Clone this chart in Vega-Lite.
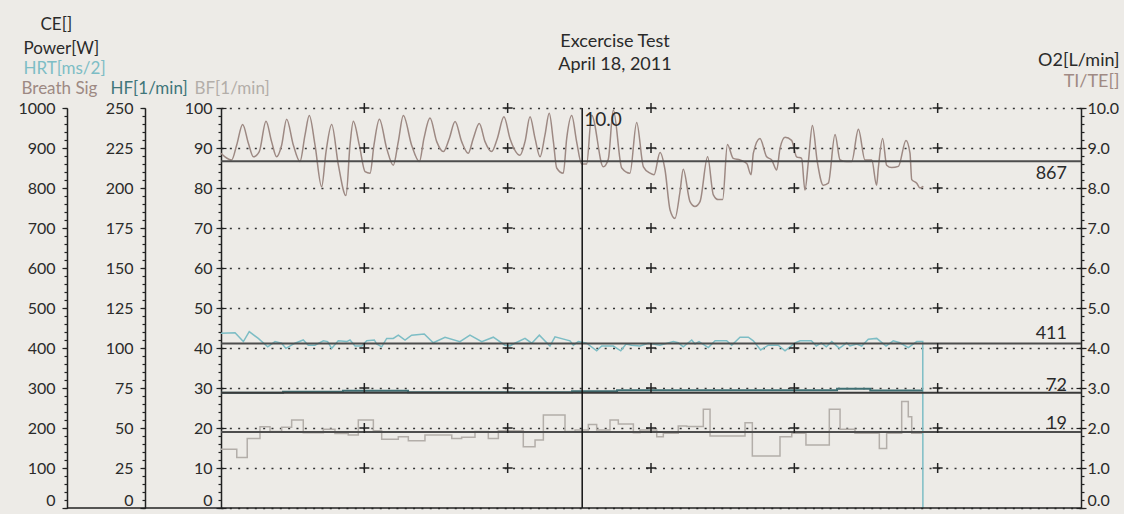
{
  "$schema": "https://vega.github.io/schema/vega-lite/v6.json",
  "width": 860,
  "height": 400,
  "autosize": {"type": "none"},
  "padding": {"left": 221, "top": 108, "right": 43, "bottom": 6},
  "background": "#edebe7",
  "config": {
    "view": {"stroke": null},
    "font": "Lato",
    "axis": {
      "domainColor": "#222222",
      "domainWidth": 1.5,
      "tickColor": "#222222",
      "tickWidth": 1.2,
      "labelFont": "Lato",
      "labelFontSize": 16,
      "labelColor": "#2a2a2a",
      "labelOverlap": false,
      "grid": false,
      "titleFont": "Lato",
      "titleFontSize": 17,
      "titleFontWeight": "normal",
      "titleAngle": 0,
      "titleAlign": "left",
      "titleBaseline": "alphabetic",
      "titleColor": "#2a2a2a",
      "titlePadding": 0
    }
  },
  "datasets": {
    "dummy": [{"value": 0}],
    "heading": [{"text": "Excercise Test"}, {"text": "April 18, 2011"}],
    "breath": [
      {"t":0,"value":887},{"t":2.8,"value":878},{"t":7.4,"value":870},{"t":10.9,"value":907},{"t":15.1,"value":959},{"t":19.1,"value":912},{"t":22.6,"value":878},{"t":26.7,"value":891},{"t":31.4,"value":967},{"t":35.3,"value":916},{"t":38.8,"value":878},{"t":42.3,"value":907},{"t":45.8,"value":972},{"t":50.5,"value":907},{"t":55.1,"value":866},{"t":58.6,"value":932},{"t":61.6,"value":981},{"t":65.6,"value":907},{"t":70.2,"value":803},{"t":73.3,"value":891},{"t":77.2,"value":959},{"t":81.9,"value":857},{"t":87.2,"value":781},{"t":90,"value":907},{"t":92.3,"value":967},{"t":96.5,"value":907},{"t":100.5,"value":841},{"t":104,"value":837},{"t":106.7,"value":907},{"t":110.5,"value":972},{"t":115.6,"value":899},{"t":120.2,"value":857},{"t":123.7,"value":916},{"t":127.2,"value":981},{"t":133,"value":907},{"t":138.4,"value":866},{"t":141.6,"value":924},{"t":145.8,"value":975},{"t":150.5,"value":916},{"t":155.1,"value":891},{"t":159.3,"value":924},{"t":163.3,"value":966},{"t":167.9,"value":916},{"t":172.5,"value":887},{"t":176,"value":924},{"t":180.2,"value":961},{"t":184.2,"value":916},{"t":188.8,"value":891},{"t":192.8,"value":924},{"t":197.4,"value":978},{"t":201.6,"value":924},{"t":208.6,"value":882},{"t":212.1,"value":916},{"t":215.6,"value":978},{"t":219.1,"value":924},{"t":222.6,"value":878},{"t":226,"value":932},{"t":229,"value":987},{"t":231.9,"value":916},{"t":234.2,"value":850},{"t":238.8,"value":837},{"t":241.2,"value":924},{"t":244.7,"value":981},{"t":248.1,"value":916},{"t":251.6,"value":860},{"t":255.1,"value":860},{"t":258.6,"value":982},{"t":266.7,"value":853},{"t":270.2,"value":872},{"t":273.7,"value":995},{"t":279.6,"value":850},{"t":285.3,"value":837},{"t":290,"value":964},{"t":294.7,"value":853},{"t":299.3,"value":837},{"t":302.1,"value":833},{"t":306.3,"value":889},{"t":309.8,"value":845},{"t":313.3,"value":745},{"t":316.7,"value":724},{"t":320.2,"value":790},{"t":322.5,"value":847},{"t":327.2,"value":766},{"t":330.7,"value":754},{"t":334.2,"value":766},{"t":339.5,"value":878},{"t":343.5,"value":783},{"t":347,"value":771},{"t":350,"value":771},{"t":353.3,"value":909},{"t":357.4,"value":874},{"t":362.1,"value":870},{"t":366.8,"value":861},{"t":369.8,"value":833},{"t":371.4,"value":887},{"t":376,"value":924},{"t":380.7,"value":878},{"t":384.2,"value":870},{"t":387.7,"value":845},{"t":390,"value":899},{"t":393.5,"value":927},{"t":398.1,"value":919},{"t":401.6,"value":878},{"t":405.1,"value":874},{"t":407.4,"value":795},{"t":409.8,"value":866},{"t":412.6,"value":956},{"t":416,"value":866},{"t":420.2,"value":807},{"t":423.7,"value":812},{"t":428.4,"value":934},{"t":431.9,"value":870},{"t":436.5,"value":866},{"t":440,"value":866},{"t":444.7,"value":947},{"t":449.3,"value":870},{"t":454,"value":870},{"t":457.4,"value":807},{"t":458.6,"value":850},{"t":461.6,"value":924},{"t":464.4,"value":857},{"t":467.9,"value":851},{"t":472.6,"value":854},{"t":477.9,"value":919},{"t":480.7,"value":887},{"t":481.9,"value":821},{"t":485.4,"value":812},{"t":487.7,"value":800},{"t":490,"value":804}
    ],
    "hrt": [
      {"t":0,"value":437},{"t":9.8,"value":438},{"t":15.6,"value":416},{"t":19.7,"value":441},{"t":26,"value":424},{"t":32.6,"value":403},{"t":37.7,"value":416},{"t":42.3,"value":412},{"t":45.3,"value":399},{"t":51.6,"value":412},{"t":57.4,"value":420},{"t":60.9,"value":407},{"t":65.6,"value":407},{"t":71.4,"value":418},{"t":74.4,"value":416},{"t":77.2,"value":399},{"t":81.8,"value":418},{"t":87.7,"value":416},{"t":90,"value":420},{"t":93.5,"value":405},{"t":98.2,"value":405},{"t":101.7,"value":418},{"t":107,"value":420},{"t":108.6,"value":410},{"t":112.1,"value":403},{"t":115.6,"value":424},{"t":120.2,"value":424},{"t":123.7,"value":432},{"t":128.4,"value":420},{"t":133,"value":432},{"t":141.8,"value":435},{"t":148.1,"value":413},{"t":156.3,"value":427},{"t":166.7,"value":416},{"t":173.7,"value":432},{"t":181.9,"value":416},{"t":190,"value":427},{"t":198.1,"value":407},{"t":201.6,"value":405},{"t":203.9,"value":410},{"t":212.1,"value":424},{"t":216.8,"value":412},{"t":222.1,"value":432},{"t":229.5,"value":405},{"t":233,"value":428},{"t":243.5,"value":418},{"t":245.8,"value":407},{"t":249.3,"value":416},{"t":255.1,"value":412},{"t":262.1,"value":393},{"t":265.6,"value":405},{"t":273.7,"value":405},{"t":278.9,"value":393},{"t":282.6,"value":410},{"t":286.5,"value":407},{"t":292.3,"value":405},{"t":298.1,"value":412},{"t":306.3,"value":407},{"t":315.6,"value":416},{"t":319,"value":413},{"t":322.5,"value":403},{"t":328.4,"value":420},{"t":330.7,"value":410},{"t":333.5,"value":416},{"t":340,"value":401},{"t":344.7,"value":418},{"t":352.8,"value":418},{"t":356.3,"value":407},{"t":362.1,"value":427},{"t":367.9,"value":427},{"t":371.4,"value":418},{"t":376.5,"value":395},{"t":381.9,"value":407},{"t":388.8,"value":407},{"t":393.5,"value":393},{"t":400.5,"value":413},{"t":404,"value":418},{"t":411.9,"value":418},{"t":415.3,"value":405},{"t":418.8,"value":413},{"t":422.3,"value":403},{"t":426.1,"value":416},{"t":431.4,"value":399},{"t":436.5,"value":413},{"t":438.8,"value":405},{"t":443.5,"value":410},{"t":447,"value":405},{"t":451.6,"value":422},{"t":457.5,"value":424},{"t":464,"value":405},{"t":469,"value":418},{"t":473.7,"value":413},{"t":479.5,"value":401},{"t":485.4,"value":416},{"t":489.6,"value":416},{"t":489.7,"value":0}
    ],
    "hf": [
      {"t":0,"value":72},{"t":43.3,"value":72.6},{"t":85.1,"value":73.3},{"t":130.5,"value":72.3},{"t":244.9,"value":73},{"t":276.3,"value":73.6},{"t":429.8,"value":74.5},{"t":453,"value":73.5},{"t":489.6,"value":73.5}
    ],
    "bf": [
      {"t":0,"value":14.7},{"t":11,"value":12.6},{"t":18.3,"value":17.4},{"t":27.2,"value":20.3},{"t":34.2,"value":19.1},{"t":42.3,"value":20.2},{"t":49.3,"value":22},{"t":57.4,"value":18.8},{"t":71.4,"value":19.7},{"t":79.5,"value":18.6},{"t":88.8,"value":18.25},{"t":95.8,"value":22},{"t":106.3,"value":19.3},{"t":112.1,"value":17.2},{"t":123.7,"value":17.8},{"t":130.7,"value":16.8},{"t":142.3,"value":18.25},{"t":161,"value":17.4},{"t":167.9,"value":17.7},{"t":177.2,"value":19.1},{"t":186.5,"value":17.4},{"t":193.5,"value":19.3},{"t":210.9,"value":15.3},{"t":219.1,"value":17},{"t":224.9,"value":23.25},{"t":240,"value":19.1},{"t":247,"value":19.5},{"t":256.3,"value":20.9},{"t":262.1,"value":19.5},{"t":271.4,"value":22},{"t":277.2,"value":21},{"t":287.7,"value":18.8},{"t":292.3,"value":19.5},{"t":304,"value":17.8},{"t":308.6,"value":18.7},{"t":319,"value":20.5},{"t":324.9,"value":20.4},{"t":336.5,"value":24.7},{"t":341.2,"value":18},{"t":365.6,"value":21.3},{"t":370.7,"value":13},{"t":390,"value":17.8},{"t":398.2,"value":18.7},{"t":408.1,"value":15.75},{"t":424.4,"value":24.7},{"t":431.9,"value":19.7},{"t":442.3,"value":18.7},{"t":459.3,"value":14.9},{"t":464.4,"value":18.7},{"t":474.9,"value":26.6},{"t":479.5,"value":22.8},{"t":481.9,"value":18.7},{"t":489.6,"value":18.7}
    ],
    "ref1000": [{"value": 867, "label": "867"}, {"value": 411, "label": "411"}],
    "ref250": [{"value": 72, "label": "72"}],
    "ref100": [{"value": 19, "label": "19"}],
    "cursor": [{"t": 252, "label": "10.0"}],
    "plus": [
      {"t":100,"value":10},{"t":100,"value":20},{"t":100,"value":30},{"t":100,"value":40},{"t":100,"value":50},{"t":100,"value":60},{"t":100,"value":70},{"t":100,"value":80},{"t":100,"value":90},{"t":100,"value":100},
      {"t":200,"value":10},{"t":200,"value":20},{"t":200,"value":30},{"t":200,"value":40},{"t":200,"value":50},{"t":200,"value":60},{"t":200,"value":70},{"t":200,"value":80},{"t":200,"value":90},{"t":200,"value":100},
      {"t":300,"value":10},{"t":300,"value":20},{"t":300,"value":30},{"t":300,"value":40},{"t":300,"value":50},{"t":300,"value":60},{"t":300,"value":70},{"t":300,"value":80},{"t":300,"value":90},{"t":300,"value":100},
      {"t":400,"value":10},{"t":400,"value":20},{"t":400,"value":30},{"t":400,"value":40},{"t":400,"value":50},{"t":400,"value":60},{"t":400,"value":70},{"t":400,"value":80},{"t":400,"value":90},{"t":400,"value":100},
      {"t":500,"value":10},{"t":500,"value":20},{"t":500,"value":30},{"t":500,"value":40},{"t":500,"value":50},{"t":500,"value":60},{"t":500,"value":70},{"t":500,"value":80},{"t":500,"value":90},{"t":500,"value":100}
    ]
  },
  "resolve": {"scale": {"y": "independent"}, "axis": {"y": "independent"}},
  "layer": [
    {
      "data": {"name": "bf"},
      "mark": {"type": "line", "color": "#b3aea9", "strokeWidth": 1.5, "interpolate": "step-after"},
      "encoding": {
        "x": {"field": "t", "type": "quantitative", "scale": {"domain": [0, 600], "nice": false}, "axis": null},
        "y": {
          "field": "value", "type": "quantitative",
          "scale": {"domain": [0, 100], "nice": false},
          "axis": {
            "orient": "left", "offset": 0,
            "values": [0,10,20,30,40,50,60,70,80,90,100],
            "tickSize": 5, "labelPadding": 4,
            "labelBaseline": {"condition": {"test": "datum.value == 0", "value": "bottom"}, "value": "middle"},
            "grid": true, "gridDash": [2, 6.33], "gridColor": "#333333", "gridWidth": 1.5,
            "title": "BF[1/min]", "titleColor": "#b3aea9", "titleX": -27, "titleY": -15
          }
        }
      }
    },
    {
      "data": {"name": "heading"},
      "transform": [{"filter": "datum.text == 'Excercise Test'"}],
      "mark": {"type": "text", "align": "center", "baseline": "alphabetic", "fontSize": 18, "font": "Lato", "color": "#2a2a2a"},
      "encoding": {
        "x": {"datum": 274.9, "type": "quantitative", "axis": null},
        "y": {"datum": 115.25, "type": "quantitative", "scale": {"domain": [0, 100], "nice": false}, "axis": null},
        "text": {"field": "text"}
      }
    },
    {
      "data": {"name": "heading"},
      "transform": [{"filter": "datum.text == 'April 18, 2011'"}],
      "mark": {"type": "text", "align": "center", "baseline": "alphabetic", "fontSize": 18, "font": "Lato", "color": "#2a2a2a"},
      "encoding": {
        "x": {"datum": 274.9, "type": "quantitative", "axis": null},
        "y": {"datum": 109.5, "type": "quantitative", "scale": {"domain": [0, 100], "nice": false}, "axis": null},
        "text": {"field": "text"}
      }
    },
    {
      "data": {"name": "dummy"},
      "mark": {"type": "point", "opacity": 0},
      "encoding": {
        "y": {
          "field": "value", "type": "quantitative",
          "scale": {"domain": [0, 100], "nice": false},
          "axis": {
            "orient": "left", "offset": 0,
            "values": [0,2,4,6,8,10,12,14,16,18,20,22,24,26,28,30,32,34,36,38,40,42,44,46,48,50,52,54,56,58,60,62,64,66,68,70,72,74,76,78,80,82,84,86,88,90,92,94,96,98,100],
            "tickSize": 3, "labels": false, "domain": false,
            "title": "Breath Sig", "titleColor": "#9d8983", "titleX": -200, "titleY": -15
          }
        }
      }
    },
    {
      "data": {"name": "dummy"},
      "mark": {"type": "point", "opacity": 0},
      "encoding": {
        "y": {
          "field": "value", "type": "quantitative",
          "scale": {"domain": [0, 100], "nice": false},
          "axis": {
            "orient": "left", "offset": 0,
            "values": [0,10,20,30,40,50,60,70,80,90,100],
            "tickSize": -5, "labels": false, "domain": false, "title": ""
          }
        }
      }
    },
    {
      "data": {"name": "breath"},
      "mark": {"type": "line", "color": "#9d8983", "strokeWidth": 1.5, "interpolate": "monotone"},
      "encoding": {
        "x": {"field": "t", "type": "quantitative", "axis": null},
        "y": {
          "field": "value", "type": "quantitative",
          "scale": {"domain": [0, 1000], "nice": false},
          "axis": {
            "orient": "left", "offset": 154,
            "values": [0,100,200,300,400,500,600,700,800,900,1000],
            "format": "d",
            "tickSize": 5, "labelPadding": 7,
            "labelBaseline": {"condition": {"test": "datum.value == 0", "value": "bottom"}, "value": "middle"},
            "title": "Power[W]", "titleX": -44, "titleY": -55
          }
        }
      }
    },
    {
      "data": {"name": "dummy"},
      "mark": {"type": "point", "opacity": 0},
      "encoding": {
        "y": {
          "field": "value", "type": "quantitative",
          "scale": {"domain": [0, 1000], "nice": false},
          "axis": {
            "orient": "left", "offset": 154,
            "values": [0,20,40,60,80,100,120,140,160,180,200,220,240,260,280,300,320,340,360,380,400,420,440,460,480,500,520,540,560,580,600,620,640,660,680,700,720,740,760,780,800,820,840,860,880,900,920,940,960,980,1000],
            "tickSize": 3, "labels": false, "domain": false,
            "title": "CE[]", "titleX": -27, "titleY": -79
          }
        }
      }
    },
    {
      "data": {"name": "hrt"},
      "mark": {"type": "line", "color": "#7dbdc5", "strokeWidth": 1.5},
      "encoding": {
        "x": {"field": "t", "type": "quantitative", "axis": null},
        "y": {"field": "value", "type": "quantitative", "scale": {"domain": [0, 1000], "nice": false}, "axis": null}
      }
    },
    {
      "data": {"name": "ref1000"},
      "mark": {"type": "rule", "color": "#4d4d4d", "strokeWidth": 2},
      "encoding": {"y": {"field": "value", "type": "quantitative", "scale": {"domain": [0, 1000], "nice": false}, "axis": null}}
    },
    {
      "data": {"name": "ref1000"},
      "transform": [{"filter": "datum.value == 867"}],
      "mark": {"type": "text", "align": "right", "baseline": "top", "dx": -14, "dy": 4, "fontSize": 18, "font": "Lato", "color": "#2a2a2a"},
      "encoding": {
        "x": {"datum": 600, "type": "quantitative", "axis": null},
        "y": {"field": "value", "type": "quantitative", "scale": {"domain": [0, 1000], "nice": false}, "axis": null},
        "text": {"field": "label"}
      }
    },
    {
      "data": {"name": "ref1000"},
      "transform": [{"filter": "datum.value == 411"}],
      "mark": {"type": "text", "align": "right", "baseline": "alphabetic", "dx": -14, "dy": -5, "fontSize": 18, "font": "Lato", "color": "#2a2a2a"},
      "encoding": {
        "x": {"datum": 600, "type": "quantitative", "axis": null},
        "y": {"field": "value", "type": "quantitative", "scale": {"domain": [0, 1000], "nice": false}, "axis": null},
        "text": {"field": "label"}
      }
    },
    {
      "data": {"name": "hf"},
      "mark": {"type": "line", "color": "#3f6f73", "strokeWidth": 2, "interpolate": "step-after"},
      "encoding": {
        "x": {"field": "t", "type": "quantitative", "axis": null},
        "y": {
          "field": "value", "type": "quantitative",
          "scale": {"domain": [0, 250], "nice": false},
          "axis": {
            "orient": "left", "offset": 76,
            "values": [0,25,50,75,100,125,150,175,200,225,250],
            "tickSize": 5, "labelPadding": 7,
            "labelBaseline": {"condition": {"test": "datum.value == 0", "value": "bottom"}, "value": "middle"},
            "title": "HF[1/min]", "titleColor": "#40767a", "titleX": -35, "titleY": -15
          }
        }
      }
    },
    {
      "data": {"name": "dummy"},
      "mark": {"type": "point", "opacity": 0},
      "encoding": {
        "y": {
          "field": "value", "type": "quantitative",
          "scale": {"domain": [0, 250], "nice": false},
          "axis": {
            "orient": "left", "offset": 76,
            "values": [0,5,10,15,20,25,30,35,40,45,50,55,60,65,70,75,80,85,90,95,100,105,110,115,120,125,130,135,140,145,150,155,160,165,170,175,180,185,190,195,200,205,210,215,220,225,230,235,240,245,250],
            "tickSize": 3, "labels": false, "domain": false,
            "title": "HRT[ms/2]", "titleColor": "#7dbdc5", "titleX": -122, "titleY": -35
          }
        }
      }
    },
    {
      "data": {"name": "ref250"},
      "mark": {"type": "rule", "color": "#3a3a3a", "strokeWidth": 2},
      "encoding": {"y": {"field": "value", "type": "quantitative", "scale": {"domain": [0, 250], "nice": false}, "axis": null}}
    },
    {
      "data": {"name": "ref250"},
      "mark": {"type": "text", "align": "right", "baseline": "alphabetic", "dx": -14, "dy": -2, "fontSize": 18, "font": "Lato", "color": "#2a2a2a"},
      "encoding": {
        "x": {"datum": 600, "type": "quantitative", "axis": null},
        "y": {"field": "value", "type": "quantitative", "scale": {"domain": [0, 250], "nice": false}, "axis": null},
        "text": {"field": "label"}
      }
    },
    {
      "data": {"name": "ref100"},
      "mark": {"type": "rule", "color": "#4d4d4d", "strokeWidth": 2},
      "encoding": {"y": {"field": "value", "type": "quantitative", "scale": {"domain": [0, 100], "nice": false}, "axis": null}}
    },
    {
      "data": {"name": "ref100"},
      "mark": {"type": "text", "align": "right", "baseline": "alphabetic", "dx": -14, "dy": -3, "fontSize": 18, "font": "Lato", "color": "#2a2a2a"},
      "encoding": {
        "x": {"datum": 600, "type": "quantitative", "axis": null},
        "y": {"field": "value", "type": "quantitative", "scale": {"domain": [0, 100], "nice": false}, "axis": null},
        "text": {"field": "label"}
      }
    },
    {
      "data": {"name": "plus"},
      "mark": {"type": "point", "shape": "M-1,0H1M0,-1V1", "size": 100, "filled": false, "stroke": "#222222", "strokeWidth": 1.5, "opacity": 1},
      "encoding": {
        "x": {"field": "t", "type": "quantitative", "axis": null},
        "y": {"field": "value", "type": "quantitative", "scale": {"domain": [0, 100], "nice": false}, "axis": null}
      }
    },
    {
      "data": {"name": "cursor"},
      "mark": {"type": "rule", "color": "#111111", "strokeWidth": 1.5},
      "encoding": {
        "x": {"field": "t", "type": "quantitative", "axis": null},
        "y": {"datum": 0, "type": "quantitative", "scale": {"domain": [0, 100], "nice": false}, "axis": null},
        "y2": {"datum": 100}
      }
    },
    {
      "data": {"name": "cursor"},
      "mark": {"type": "text", "align": "left", "baseline": "top", "dx": 2, "dy": 3, "fontSize": 19, "font": "Lato", "color": "#2a2a2a"},
      "encoding": {
        "x": {"field": "t", "type": "quantitative", "axis": null},
        "y": {"datum": 100, "type": "quantitative", "scale": {"domain": [0, 100], "nice": false}, "axis": null},
        "text": {"field": "label"}
      }
    },
    {
      "data": {"name": "cursor"},
      "mark": {"type": "rule", "color": "#222222", "strokeWidth": 1.5},
      "encoding": {
        "x": {"datum": -107.4, "type": "quantitative", "axis": null},
        "x2": {"datum": 600},
        "y": {"datum": 0, "type": "quantitative", "scale": {"domain": [0, 100], "nice": false}, "axis": null}
      }
    },
    {
      "data": {"name": "dummy"},
      "mark": {"type": "point", "opacity": 0},
      "encoding": {
        "y": {
          "field": "value", "type": "quantitative",
          "scale": {"domain": [0, 10], "nice": false},
          "axis": {
            "orient": "right", "offset": 0,
            "values": [0,1,2,3,4,5,6,7,8,9,10],
            "format": ".1f",
            "tickSize": 5, "labelPadding": 1, "labelAlign": "left",
            "labelBaseline": {"condition": {"test": "datum.value == 0", "value": "bottom"}, "value": "middle"},
            "title": "O2[L/min]", "titleFontSize": 18, "titleAlign": "right", "titleX": 38, "titleY": -43
          }
        }
      }
    },
    {
      "data": {"name": "dummy"},
      "mark": {"type": "point", "opacity": 0},
      "encoding": {
        "y": {
          "field": "value", "type": "quantitative",
          "scale": {"domain": [0, 10], "nice": false},
          "axis": {
            "orient": "right", "offset": 0,
            "values": [0,0.2,0.4,0.6,0.8,1,1.2,1.4,1.6,1.8,2,2.2,2.4,2.6,2.8,3,3.2,3.4,3.6,3.8,4,4.2,4.4,4.6,4.8,5,5.2,5.4,5.6,5.8,6,6.2,6.4,6.6,6.8,7,7.2,7.4,7.6,7.8,8,8.2,8.4,8.6,8.8,9,9.2,9.4,9.6,9.8,10],
            "tickSize": 3, "labels": false, "domain": false,
            "title": "TI/TE[]", "titleFontSize": 18, "titleColor": "#a08a84", "titleAlign": "right", "titleX": 38, "titleY": -22
          }
        }
      }
    },
    {
      "data": {"name": "dummy"},
      "mark": {"type": "point", "opacity": 0},
      "encoding": {
        "y": {
          "field": "value", "type": "quantitative",
          "scale": {"domain": [0, 10], "nice": false},
          "axis": {
            "orient": "right", "offset": 0,
            "values": [0,1,2,3,4,5,6,7,8,9,10],
            "tickSize": -5, "labels": false, "domain": false, "title": ""
          }
        }
      }
    }
  ]
}
